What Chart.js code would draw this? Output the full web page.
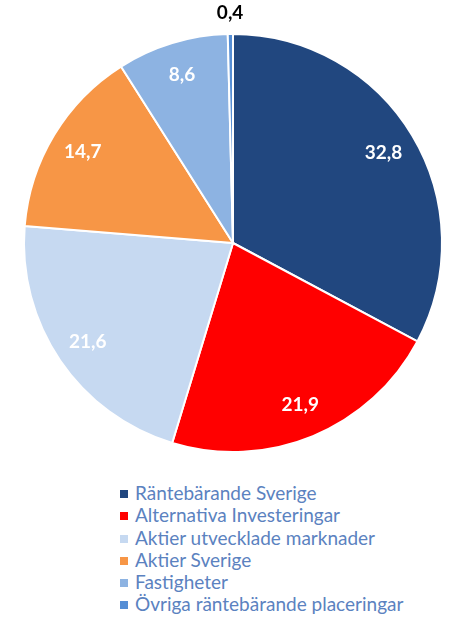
<!DOCTYPE html>
<html>
<head>
<meta charset="utf-8">
<script src="https://cdn.jsdelivr.net/npm/chart.js@4/dist/chart.umd.min.js"></script>
<style>
    html, body { margin: 0; padding: 0; background: #fff; }
    #wrap { position: relative; width: 450px; height: 617px; }
    #chartBox { position: absolute; left: 0; top: 0; width: 450px; height: 470px; }
    #legend { position: absolute; left: 120px; top: 482px; font-family: Lato, "Open Sans", sans-serif; font-size: 19px; color: #5b82c0; }
    #legend .row { height: 22.3px; line-height: 22px; white-space: nowrap; }
    #legend .box { display: inline-block; width: 8px; height: 8px; margin-right: 7px; vertical-align: 2px; }
</style>
</head>
<body>
<div id="wrap">
    <div id="chartBox"><canvas id="pieChart"></canvas></div>
    <div id="legend"></div>
</div>
<script>
"use strict";

const categories = [
    'Räntebärande Sverige',
    'Alternativa Investeringar',
    'Aktier utvecklade marknader',
    'Aktier Sverige',
    'Fastigheter',
    'Övriga räntebärande placeringar'
];
const shares = [32.8, 21.9, 21.6, 14.7, 8.6, 0.4];
const sliceColors = ['#21477f', '#ff0000', '#c6d9f1', '#f79646', '#8db3e2', '#558ed5'];

function formatValue(v) {
    return v.toFixed(1).replace('.', ',');
}

// draws the value labels; the tiny last slice gets its label outside in black
const sliceLabels = {
    id: 'sliceLabels',
    afterDatasetsDraw(chart) {
        const ctx = chart.ctx;
        const meta = chart.getDatasetMeta(0);
        ctx.save();
        ctx.font = 'bold 19px Lato, "Open Sans", sans-serif';
        ctx.textAlign = 'center';
        ctx.textBaseline = 'middle';
        meta.data.forEach((arc, i) => {
            const { x, y, startAngle, endAngle, outerRadius } = arc.getProps(['x', 'y', 'startAngle', 'endAngle', 'outerRadius'], true);
            const mid = (startAngle + endAngle) / 2;
            const small = shares[i] < 2;
            const dist = small ? outerRadius + 21 : outerRadius * 0.84;
            ctx.fillStyle = small ? '#000' : '#fff';
            ctx.fillText(formatValue(shares[i]), x + Math.cos(mid) * dist, y + Math.sin(mid) * dist);
        });
        ctx.restore();
    }
};

new Chart(document.getElementById('pieChart'), {
    type: 'pie',
    data: {
        labels: categories,
        datasets: [{
            data: shares,
            backgroundColor: sliceColors,
            borderColor: '#fff',
            borderWidth: 2
        }]
    },
    options: {
        responsive: true,
        maintainAspectRatio: false,
        animation: false,
        layout: { padding: { top: 33, bottom: 17, left: 22, right: 6 } },
        plugins: {
            legend: { display: false },
            tooltip: { enabled: false }
        }
    },
    plugins: [sliceLabels]
});

const legend = document.getElementById('legend');
categories.forEach((name, i) => {
    const row = document.createElement('div');
    row.className = 'row';
    const box = document.createElement('span');
    box.className = 'box';
    box.style.background = sliceColors[i];
    row.appendChild(box);
    row.appendChild(document.createTextNode(name));
    legend.appendChild(row);
});
</script>
</body>
</html>
